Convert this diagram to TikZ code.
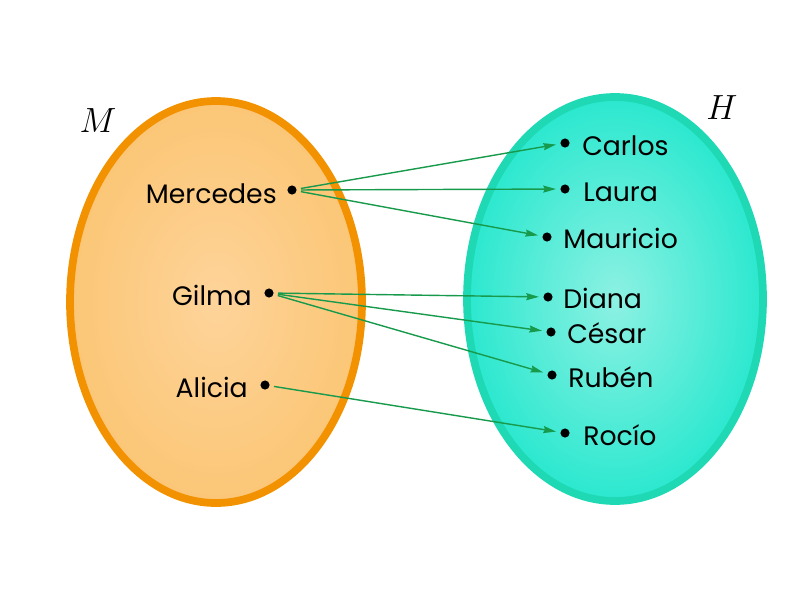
\documentclass[tikz,border=0pt]{standalone}
\usepackage{fontspec}
\setmainfont{Poppins}
\usetikzlibrary{arrows.meta}

\definecolor{naranja}{HTML}{F39200}
\definecolor{naranjaclaro}{HTML}{FED49A}
\definecolor{naranjafondo}{HTML}{FBC676}
\definecolor{turquesa}{HTML}{1ED9B4}
\definecolor{turquesaclaro}{HTML}{8DF1E3}
\definecolor{turquesafondo}{HTML}{2BE8CF}
\definecolor{flecha}{HTML}{189A4C}

\tikzset{
  punto/.style={circle,fill=black,inner sep=0pt,minimum size=6.5pt},
  nombre/.style={inner sep=0pt,font=\fontsize{19}{22}\selectfont},
  flechita/.style={draw=flecha,line width=1pt,
    -{Stealth[length=9pt,width=5pt,inset=1pt]},
    shorten <=3pt,shorten >=3pt}
}

\begin{document}
\begin{tikzpicture}[x=0.025cm,y=-0.025cm]
  \useasboundingbox (0,0) rectangle (800,600);

  % conjuntos
  \path[draw=naranja,line width=5.5pt,inner color=naranjaclaro,outer color=naranjafondo]
    (216,302) ellipse [x radius=146,y radius=201];
  \path[draw=turquesa,line width=5.5pt,inner color=turquesaclaro,outer color=turquesafondo]
    (615,299) ellipse [x radius=148,y radius=202];

  \node[font=\fontsize{31}{34}\selectfont] (nomM) at (98,121) {$M$};
  \node[font=\fontsize{31}{34}\selectfont] (nomH) at (722,108) {$H$};

  % puntos
  \node[punto] (mercedes) at (292,190) {};
  \node[punto] (gilma)    at (269,293) {};
  \node[punto] (alicia)   at (265,385) {};
  \node[punto] (carlos)   at (565,143) {};
  \node[punto] (laura)    at (565,189) {};
  \node[punto] (mauricio) at (547,237) {};
  \node[punto] (diana)    at (548,297) {};
  \node[punto] (cesar)    at (551,332) {};
  \node[punto] (ruben)    at (552,375) {};
  \node[punto] (rocio)    at (565,433) {};

  % nombres
  \begin{scope}[every node/.style={nombre,anchor=base east}]
    \node (tmercedes) at (277,203) {Mercedes};
    \node (tgilma)    at (252,305) {Gilma};
    \node (talicia)   at (248,397) {Alicia};
  \end{scope}
  \begin{scope}[every node/.style={nombre,anchor=base west}]
    \node (tcarlos)   at (582,155) {Carlos};
    \node (tlaura)    at (583,201) {Laura};
    \node (tmauricio) at (563,248) {Mauricio};
    \node (tdiana)    at (563,308) {Diana};
    \node (tcesar)    at (567,343) {César};
    \node (truben)    at (568,387) {Rubén};
    \node (trocio)    at (583,445) {Rocío};
  \end{scope}

  \begin{scope}[every edge/.style={flechita}]
    \path (mercedes) edge (carlos);
    \path (mercedes) edge (laura);
    \path (mercedes) edge (mauricio);
    \path (gilma)    edge (diana);
    \path (gilma)    edge (cesar);
    \path (gilma)    edge (ruben);
    \path (alicia)   edge (rocio);
  \end{scope}

\end{tikzpicture}
\end{document}
